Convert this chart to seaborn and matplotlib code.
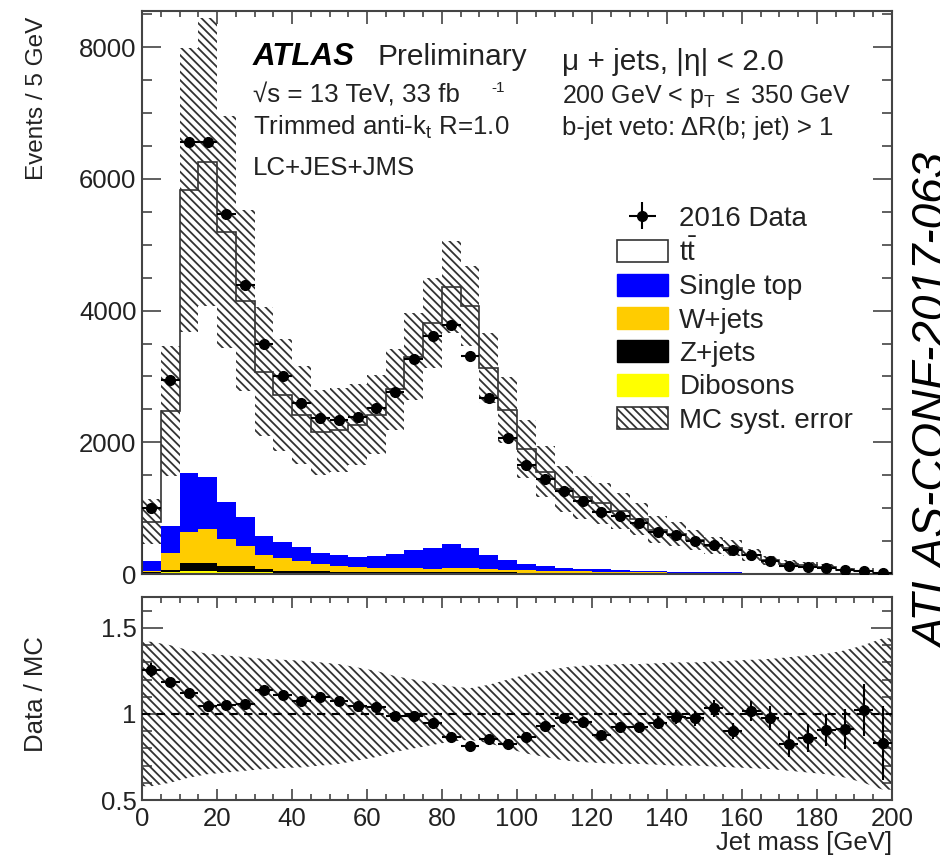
import numpy as np
import pandas as pd
import matplotlib
matplotlib.use("Agg")
import matplotlib.pyplot as plt
from matplotlib.patches import Patch
from matplotlib.ticker import MultipleLocator, FuncFormatter
import seaborn as sns

# jet mass binning: 40 bins of 5 GeV
edges = np.arange(0, 205, 5)
centers = edges[:-1] + 2.5

data_2016 = [1000, 2940, 6560, 6560, 5470, 4390, 3500, 3010, 2600, 2370,
             2345, 2380, 2515, 2768, 3258, 3620, 3775, 3305, 2680, 2060,
             1650, 1440, 1255, 1113, 938, 887, 769, 641, 590, 497,
             446, 359, 292, 205, 128, 113, 97, 62, 46, 15]

ttbar = [602, 1742, 4308, 4782, 4108, 3291, 2499, 2230, 2002, 1832,
         1903, 2013, 2149, 2499, 2929, 3425, 3902, 3670, 2844, 2283,
         1756, 1422, 1189, 1085, 997, 904, 785, 633, 566, 479,
         405, 374, 266, 192, 140, 118, 95, 59, 37, 12]

single_top = [144, 415, 887, 790, 549, 436, 282, 241, 205, 169,
              164, 153, 180, 221, 277, 308, 364, 313, 205, 143,
              93, 80, 55, 42, 40, 25, 22, 18, 15, 13,
              11, 10, 8, 7, 6, 5, 4, 3, 3, 2]

w_jets = [25, 251, 477, 513, 410, 298, 215, 195, 160, 114,
          82, 70, 60, 56, 60, 50, 55, 56, 50, 40,
          32, 28, 25, 22, 20, 18, 16, 14, 12, 10,
          9, 8, 7, 6, 5, 4, 4, 3, 3, 2]

z_jets = [16, 42, 124, 129, 93, 98, 52, 29, 25, 22,
          20, 18, 17, 16, 16, 15, 15, 14, 13, 12,
          11, 10, 9, 8, 7, 6, 6, 5, 5, 4,
          4, 3, 3, 3, 2, 2, 2, 2, 1, 1]

dibosons = [10, 25, 40, 40, 35, 30, 25, 22, 20, 18,
            16, 15, 15, 15, 16, 17, 18, 17, 15, 13,
            11, 10, 9, 8, 7, 6, 5, 5, 4, 4,
            3, 3, 3, 2, 2, 2, 2, 1, 1, 1]

# relative MC systematic uncertainty per bin
mc_syst = [0.42, 0.40, 0.37, 0.35, 0.34, 0.33, 0.32, 0.315, 0.31, 0.30,
           0.29, 0.27, 0.25, 0.22, 0.20, 0.18, 0.16, 0.15, 0.17, 0.20,
           0.23, 0.25, 0.27, 0.28, 0.285, 0.29, 0.29, 0.295, 0.30, 0.30,
           0.305, 0.31, 0.315, 0.32, 0.33, 0.34, 0.35, 0.37, 0.40, 0.44]

processes = ["ttbar", "Single top", "W+jets", "Z+jets", "Dibosons"]
labels = [r"$\mathregular{t\bar{t}}$", "Single top", "W+jets", "Z+jets", "Dibosons"]
colors = ["white", "#0000ff", "#ffcc00", "black", "#ffff00"]
HATCH = "\\\\\\\\"

sns.set_theme(style="ticks")
plt.rcParams["font.family"] = ["Liberation Sans", "DejaVu Sans"]
plt.rcParams["mathtext.fontset"] = "custom"
plt.rcParams["mathtext.rm"] = "Liberation Sans"
plt.rcParams["mathtext.it"] = "Liberation Sans:italic"
plt.rcParams["mathtext.bf"] = "Liberation Sans:bold"
plt.rcParams["hatch.linewidth"] = 1.3
plt.rcParams["text.color"] = "#222222"
plt.rcParams["axes.labelcolor"] = "#222222"

df = pd.DataFrame({
    "mass": np.tile(centers, len(processes)),
    "events": np.concatenate([ttbar, single_top, w_jets, z_jets, dibosons]).astype(float),
    "process": np.repeat(processes, len(centers)),
})

data = np.array(data_2016, dtype=float)
mc_total = np.array(ttbar) + np.array(single_top) + np.array(w_jets) + np.array(z_jets) + np.array(dibosons)
syst = np.array(mc_syst)

fig = plt.figure(figsize=(9.4, 8.58), dpi=100)
ax = fig.add_axes([142 / 940, 1 - 574 / 858, 750 / 940, 563 / 858])
axr = fig.add_axes([142 / 940, 1 - 800 / 858, 750 / 940, 203 / 858])

# stacked MC
sns.histplot(data=df, x="mass", weights="events", hue="process", hue_order=processes,
             palette=colors, multiple="stack", binwidth=5, binrange=(0, 200),
             element="step", linewidth=0, alpha=1, legend=False, ax=ax)
ax.stairs(mc_total, edges, color="#333333", linewidth=1.2, zorder=3)

# systematic band
lo = np.append(mc_total * (1 - syst), mc_total[-1] * (1 - syst[-1]))
hi = np.append(mc_total * (1 + syst), mc_total[-1] * (1 + syst[-1]))
ax.fill_between(edges, lo, hi, step="post", facecolor="none", edgecolor="#333333",
                hatch=HATCH, linewidth=0, zorder=4)

data_h = ax.errorbar(centers, data, xerr=2.5, yerr=np.sqrt(data), fmt="o", color="black",
                     markersize=7, elinewidth=1.5, capsize=0, zorder=5)

ax.set_xlim(0, 200)
ax.set_ylim(0, 8550)
ax.set_xlabel("")
ax.set_ylabel("Events / 5 GeV", loc="top", fontsize=17.5)
ax.yaxis.set_label_coords(-0.125, 0.99)

handles = [data_h,
           Patch(facecolor="white", edgecolor="#333333", linewidth=1.2),
           Patch(facecolor=colors[1], edgecolor=colors[1]),
           Patch(facecolor=colors[2], edgecolor=colors[2]),
           Patch(facecolor=colors[3], edgecolor=colors[3]),
           Patch(facecolor=colors[4], edgecolor=colors[4]),
           Patch(facecolor="white", edgecolor="#333333", hatch=HATCH, linewidth=1.2)]
leg_labels = ["2016 Data"] + labels + ["MC syst. error"]
ax.legend(handles, leg_labels, loc="upper left", bbox_to_anchor=(0.633, 0.655),
          frameon=False, fontsize=20, borderpad=0, borderaxespad=0,
          handlelength=1.85, handleheight=0.85, handletextpad=0.4, labelspacing=0.24)

# ratio panel
ratio = data / mc_total
ratio_err = np.sqrt(data) / mc_total
x_ext = np.concatenate([[0], centers, [200]])
s_ext = np.concatenate([[syst[0]], syst, [syst[-1]]])
axr.fill_between(x_ext, 1 - s_ext, 1 + s_ext, facecolor="none", edgecolor="#333333",
                 hatch=HATCH, linewidth=0, zorder=2)
axr.axhline(1, color="black", linestyle=(0, (4, 3)), linewidth=1.5, zorder=3)
axr.errorbar(centers, ratio, xerr=2.5, yerr=ratio_err, fmt="o", color="black",
             markersize=7, elinewidth=1.5, capsize=0, zorder=5)
axr.set_xlim(0, 200)
axr.set_ylim(0.5, 1.68)
axr.set_xlabel("Jet mass [GeV]", loc="right", fontsize=18.5, labelpad=0)
axr.set_ylabel("Data / MC", fontsize=18.5)
axr.yaxis.set_label_coords(-0.125, 0.52)
axr.yaxis.set_major_formatter(FuncFormatter(lambda v, p: f"{v:g}"))

for a in (ax, axr):
    a.xaxis.set_major_locator(MultipleLocator(20))
    a.xaxis.set_minor_locator(MultipleLocator(5))
    for s in a.spines.values():
        s.set_color("#444444")
        s.set_linewidth(1.5)
    a.tick_params(which="both", direction="in", top=True, right=True,
                  colors="#444444", labelcolor="#222222", labelsize=18.5, width=1.2)
ax.yaxis.set_major_locator(MultipleLocator(2000))
ax.yaxis.set_minor_locator(MultipleLocator(500))
axr.yaxis.set_major_locator(MultipleLocator(0.5))
axr.yaxis.set_minor_locator(MultipleLocator(0.1))
ax.tick_params(axis="x", which="major", length=9, labelbottom=False)
ax.tick_params(axis="x", which="minor", length=4.5)
ax.tick_params(axis="y", which="major", length=14, pad=4)
ax.tick_params(axis="y", which="minor", length=7)
axr.tick_params(axis="x", which="major", length=8, pad=5)
axr.tick_params(axis="x", which="minor", length=4)
axr.tick_params(axis="y", which="major", length=15, pad=4)
axr.tick_params(axis="y", which="minor", length=7)

# annotations
def fx(px):
    return px / 940

def fy(py):
    return 1 - py / 858

fig.text(fx(253), fy(65), "ATLAS", fontsize=22.5, fontweight="bold", style="italic", color="black")
fig.text(fx(377), fy(65), "Preliminary", fontsize=21.5, color="#222222")
fig.text(fx(253), fy(103), "\u221as = 13 TeV, 33 fb", fontsize=18.6)
fig.text(fx(491), fy(92), "-1", fontsize=11)
fig.text(fx(253), fy(135), r"Trimmed anti-k$_\mathregular{t}$ R=1.0", fontsize=18.6)
fig.text(fx(253), fy(175), "LC+JES+JMS", fontsize=18.6)
fig.text(fx(562), fy(70), "\u03bc + jets, |\u03b7| < 2.0", fontsize=21.5)
fig.text(fx(562), fy(103), r"200 GeV < p$_\mathregular{T}$ $\leq$ 350 GeV", fontsize=18)
fig.text(fx(562), fy(135), "b-jet veto: \u0394R(b; jet) > 1", fontsize=18.5)

fig.text(0.972, 0.532, "ATLAS-CONF-2017-063", rotation=90, style="italic",
         fontsize=33, color="black", ha="left", va="center")

fig.savefig("out.png", dpi=100)
